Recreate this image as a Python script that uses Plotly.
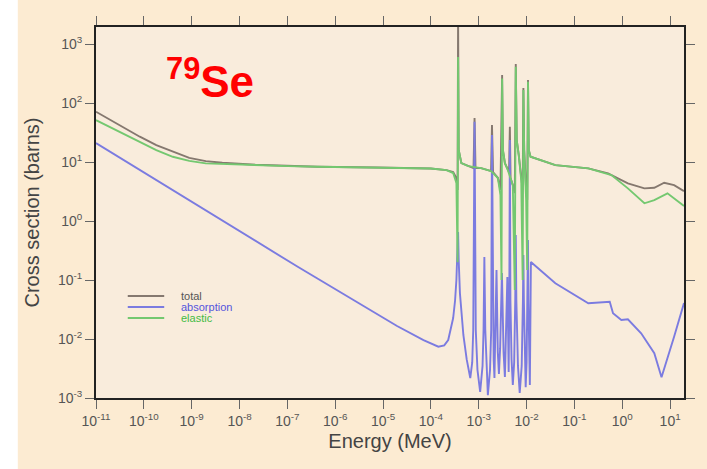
import plotly.graph_objects as go

# ---------------- data ----------------
total_E = [1.0e-11, 1.98e-11, 3.72e-11, 8.24e-11, 1.82e-10, 4.03e-10, 8.9e-10, 1.97e-9,
           4.36e-9, 2.13e-8, 1.04e-7, 4.35e-7, 7.57e-6, 9.9e-5, 2.12e-4, 2.92e-4, 3.41e-4,
           3.61e-4, 3.70e-4, 3.81e-4, 4.33e-4, 6.04e-4, 7.78e-4, 8.17e-4, 8.55e-4, 1.12e-3,
           1.81e-3, 1.89e-3, 1.99e-3, 2.52e-3, 2.84e-3, 3.08e-3, 3.20e-3, 3.52e-3, 4.06e-3,
           4.30e-3, 4.47e-3, 4.63e-3, 5.15e-3, 5.66e-3, 5.94e-3, 6.22e-3, 6.85e-3, 7.73e-3,
           8.28e-3, 8.57e-3, 8.91e-3, 9.79e-3, 1.03e-2, 1.07e-2, 1.11e-2, 1.21e-2, 2.48e-2,
           3.99e-2, 0.195, 0.505, 1.31, 2.90, 4.67, 7.51, 12.1, 19.5]
total_xs = [71.3, 51.5, 38.7, 26.9, 19.4, 15.0, 11.8, 10.4,
            9.73, 9.0, 8.55, 8.32, 8.07, 7.76, 7.31, 6.78, 5.36,
            3.35, 3000, 16, 9.6, 8.55, 7.9, 55.7, 7.9, 7.9,
            7.03, 42.4, 6.78, 5.36, 3.35, 299, 16, 9.6, 7.31,
            6.78, 39.6, 5.36, 4.07, 3.0, 458, 23.6, 13.2, 4.95,
            3.35, 180, 16, 3.35, 2.27, 245, 16, 12.3, 10.1,
            8.89, 7.82, 6.43, 4.36, 3.58, 3.66, 4.46, 4.07, 3.22]

abs_E = [1.0e-11, 1.68e-7, 1.96e-5, 7.0e-5, 1.43e-4, 1.9e-4, 2.30e-4, 2.92e-4, 3.2e-4,
         3.41e-4, 3.61e-4, 3.70e-4, 3.81e-4, 4.04e-4, 4.77e-4, 5.6e-4, 6.65e-4, 7.3e-4,
         7.67e-4, 8.17e-4, 8.67e-4, 9.4e-4, 1.07e-3, 1.2e-3, 1.26e-3, 1.31e-3, 1.37e-3,
         1.45e-3, 1.55e-3, 1.72e-3, 1.82e-3, 1.89e-3, 1.97e-3, 2.05e-3, 2.13e-3, 2.35e-3,
         2.5e-3, 2.64e-3, 2.8e-3, 3.05e-3, 3.3e-3, 3.52e-3, 3.96e-3, 4.22e-3, 4.35e-3,
         4.47e-3, 4.59e-3, 4.85e-3, 5.15e-3, 5.5e-3, 5.79e-3, 5.94e-3, 6.11e-3, 6.6e-3,
         7.18e-3, 7.9e-3, 8.38e-3, 8.57e-3, 8.77e-3, 9.2e-3, 9.57e-3, 1.0e-2, 1.05e-2,
         1.07e-2, 1.09e-2, 1.13e-2, 1.17e-2, 1.23e-2, 3.99e-2, 0.195, 0.547, 0.640, 0.955,
         1.31, 2.48, 4.67, 6.61, 12.1, 17.9, 19.5]
abs_xs = [21.0, 0.166, 0.0166, 0.0096, 0.0074, 0.0078, 0.0096, 0.0227, 0.045,
          0.1, 0.39, 0.65, 0.218, 0.060, 0.0117, 0.0045, 0.00218, 0.0040,
          0.0142, 48.2, 0.0142, 0.0030, 0.00127, 0.0035, 0.0142, 0.245, 0.0142,
          0.0035, 0.00112, 0.0030, 0.0142, 28.7, 0.0142, 0.0045, 0.00218, 0.148,
          0.0060, 0.00255, 0.0070, 0.132, 0.0060, 0.00227, 0.112, 0.00276, 0.0458,
          23.6, 0.0458, 0.0045, 0.00166, 0.0040, 0.0458, 0.58, 0.0458, 0.0035,
          0.00122, 0.0035, 0.0458, 0.265, 0.0458, 0.0035, 0.00153, 0.0040, 0.0458,
          0.476, 0.0458, 0.0040, 0.00166, 0.202, 0.0879, 0.0403, 0.0429, 0.0273, 0.0210,
          0.0216, 0.0125, 0.00573, 0.00224, 0.0109, 0.0331, 0.0407]

el_E = [1.0e-11, 3.72e-11, 8.24e-11, 1.82e-10, 4.03e-10, 8.9e-10, 1.97e-9, 4.36e-9,
        2.13e-8, 1.04e-7, 4.35e-7, 7.57e-6, 9.9e-5, 2.12e-4, 2.92e-4, 3.41e-4, 3.61e-4,
        3.70e-4, 3.81e-4, 4.33e-4, 6.04e-4, 1.12e-3, 1.81e-3, 2.52e-3, 2.84e-3, 2.99e-3,
        3.08e-3, 3.20e-3, 3.52e-3, 4.06e-3, 5.15e-3, 5.66e-3, 5.94e-3, 6.22e-3, 6.85e-3,
        7.73e-3, 8.28e-3, 8.57e-3, 8.91e-3, 9.79e-3, 1.03e-2, 1.07e-2, 1.11e-2, 1.21e-2,
        2.48e-2, 3.99e-2, 0.195, 0.593, 1.31, 2.90, 4.67, 8.79, 19.5]
el_xs = [51.5, 30.6, 22.1, 16.0, 12.3, 10.5, 9.5, 9.25,
         8.79, 8.55, 8.32, 8.07, 7.76, 7.31, 6.52, 4.41, 0.20,
         603, 16, 9.6, 8.55, 7.9, 7.03, 5.36, 2.76, 0.1,
         262, 16, 9.6, 7.31, 4.07, 0.068, 412, 23.6, 13.2,
         4.95, 0.1, 166, 16, 2.27, 0.148, 230, 16, 12.3,
         10.1, 8.89, 7.82, 6.03, 3.58, 2.0, 2.27, 2.95, 1.80]

x_tickvals = [1e-11, 1e-10, 1e-9, 1e-8, 1e-7, 1e-6, 1e-5, 1e-4, 1e-3, 1e-2, 1e-1, 1e0, 1e1]
x_ticktext = ["10<sup>-11</sup>", "10<sup>-10</sup>", "10<sup>-9</sup>", "10<sup>-8</sup>",
              "10<sup>-7</sup>", "10<sup>-6</sup>", "10<sup>-5</sup>", "10<sup>-4</sup>",
              "10<sup>-3</sup>", "10<sup>-2</sup>", "10<sup>-1</sup>", "10<sup>0</sup>",
              "10<sup>1</sup>"]
y_tickvals = [1e-3, 1e-2, 1e-1, 1e0, 1e1, 1e2, 1e3]
y_ticktext = ["10<sup>-3</sup>", "10<sup>-2</sup>", "10<sup>-1</sup>", "10<sup>0</sup>",
              "10<sup>1</sup>", "10<sup>2</sup>", "10<sup>3</sup>"]

series_names = ["total", "absorption", "elastic"]

# ---------------- styles ----------------
C_TOTAL = "#85786f"
C_ABS = "#7b7be0"
C_EL = "#74c870"
FONT = "Liberation Sans, Arial"

fig = go.Figure()
fig.add_trace(go.Scatter(x=total_E, y=total_xs, mode="lines", name=series_names[0],
                         line=dict(color=C_TOTAL, width=1.9)))
fig.add_trace(go.Scatter(x=abs_E, y=abs_xs, mode="lines", name=series_names[1],
                         line=dict(color=C_ABS, width=1.9)))
fig.add_trace(go.Scatter(x=el_E, y=el_xs, mode="lines", name=series_names[2],
                         line=dict(color=C_EL, width=1.9)))

axis_common = dict(
    type="log", showgrid=False, zeroline=False,
    showline=True, linecolor="#222222", linewidth=2, mirror="ticks",
    ticks="outside", ticklen=9, tickwidth=1, tickcolor="#666666",
    tickfont=dict(size=14, color="#555555", family=FONT),
)

fig.update_xaxes(range=[-11, 1.29], tickvals=x_tickvals, ticktext=x_ticktext,
                 title=dict(text="Energy (MeV)", standoff=6,
                            font=dict(size=20, color="#444444", family=FONT)),
                 **axis_common)
fig.update_yaxes(range=[-3, 3.29], tickvals=y_tickvals, ticktext=y_ticktext,
                 title=dict(text="Cross section (barns)", standoff=13,
                            font=dict(size=20, color="#444444", family=FONT)),
                 **axis_common)

# custom compact legend (lines + coloured labels)
leg_y = [0.275, 0.245, 0.2155]
leg_col = [C_TOTAL, C_ABS, C_EL]
leg_txt_col = ["#555555", "#5555dd", "#44bb44"]
shapes = []
annotations = []
for name, yy, c, tc in zip(series_names, leg_y, leg_col, leg_txt_col):
    shapes.append(dict(type="line", xref="paper", yref="paper", x0=0.054, x1=0.116,
                       y0=yy, y1=yy, line=dict(color=c, width=2)))
    annotations.append(dict(xref="paper", yref="paper", x=0.141, y=yy, text=name,
                            showarrow=False, xanchor="left", yanchor="middle",
                            font=dict(size=11, color=tc, family=FONT)))

# white strip at left edge of the picture
shapes.append(dict(type="rect", xref="paper", yref="paper", x0=-0.2, x1=-0.133, y0=-0.3, y1=1.2,
                   fillcolor="white", line=dict(width=0), layer="below"))

annotations.append(dict(xref="paper", yref="paper", x=0.116, y=0.862,
                        text="<b><sup>79</sup>Se</b>", showarrow=False,
                        xanchor="left", yanchor="middle",
                        font=dict(size=44, color="#ff0000", family=FONT)))

fig.update_layout(
    width=707, height=469,
    margin=dict(l=96, r=17, t=27, b=71),
    paper_bgcolor="#fcebd2",
    plot_bgcolor="#f9ecdc",
    showlegend=False,
    shapes=shapes,
    annotations=annotations,
)

fig.write_html("out.html")
